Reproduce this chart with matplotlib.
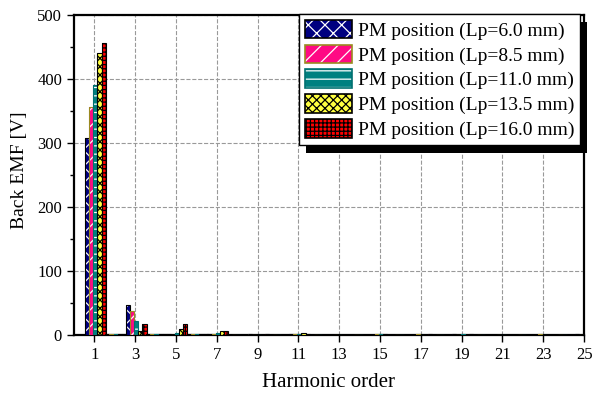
import numpy as np
import matplotlib
matplotlib.use('Agg')
import matplotlib.pyplot as plt
from matplotlib.patches import Patch, Rectangle
from matplotlib.ticker import MultipleLocator

plt.rcParams['font.family'] = ['Liberation Serif', 'DejaVu Serif']
plt.rcParams['hatch.linewidth'] = 0.9

harmonics = np.arange(1, 26)
labels = ['PM position (Lp=6.0 mm)', 'PM position (Lp=8.5 mm)', 'PM position (Lp=11.0 mm)',
          'PM position (Lp=13.5 mm)', 'PM position (Lp=16.0 mm)']

emf_lp60 = [308, 2, 47, 1, 2, 1, 1, 0.5, 1.5, 0.5, 1, 0.5, 0.8, 0.5, 0.8, 0.5, 0.8, 0.5, 1, 0.5, 0.5, 0.5, 0.5, 0.5, 1.5]
emf_lp85 = [357, 1.5, 38, 1, 0.5, 1, 2, 0.5, 0.5, 0.5, 1, 0.5, 0.5, 0.5, 1, 0.5, 1, 0.5, 0.5, 0.5, 0.5, 0.5, 1, 0.5, 0.5]
emf_lp110 = [391, 1, 22, 1, 4, 1, 4, 0.5, 0.5, 0.5, 1.5, 0.5, 0.5, 0.5, 1, 0.5, 0.5, 0.5, 1, 0.5, 0.5, 0.5, 0.5, 0.5, 0.5]
emf_lp135 = [440, 1, 6, 1, 10, 1, 7, 0.5, 0.5, 0.5, 2.5, 0.5, 0.5, 0.5, 1, 0.5, 0.5, 0.5, 0.5, 0.5, 0.5, 0.5, 0.5, 0.5, 0.5]
emf_lp160 = [457, 2, 17, 1, 18, 1, 7, 0.5, 1, 0.5, 2, 0.5, 0.5, 0.5, 0.5, 0.5, 1.5, 0.5, 1.5, 0.5, 0.5, 0.5, 0.5, 0.5, 0.5]
series = [emf_lp60, emf_lp85, emf_lp110, emf_lp135, emf_lp160]

# face, hatch, hatch colour, outline
styles = [
    ('#000080', 'xx', 'white', 'black'),
    ('#ff0a84', '//', 'white', '#9a8a20'),
    ('#008080', '--', 'white', '#007070'),
    ('#ffff40', 'xxxx', 'black', 'black'),
    ('#ff0000', '++++', 'black', 'black'),
]

fig = plt.figure(figsize=(5.96, 3.97), dpi=100)
ax = fig.add_axes([0.124, 0.156, 0.856, 0.806])

w = 0.204
handles = []
for i, (vals, (fc, hatch, hc, ec)) in enumerate(zip(series, styles)):
    x = harmonics + 0.05 + (i - 2) * w
    ax.bar(x, vals, width=w, color=fc, hatch=hatch, edgecolor=hc, linewidth=0, zorder=3)
    ax.bar(x, vals, width=w, fill=False, edgecolor=ec, linewidth=0.8, zorder=4)
    handles.append((Patch(facecolor=fc, hatch=hatch, edgecolor=hc, linewidth=0),
                    Patch(fill=False, edgecolor=ec, linewidth=1.2)))

ax.set_xlim(0, 25)
ax.set_ylim(0, 500)
ax.set_xticks(np.arange(1, 26, 2))
ax.yaxis.set_major_locator(MultipleLocator(100))
ax.yaxis.set_minor_locator(MultipleLocator(50))
ax.tick_params(axis='both', which='major', direction='out', length=5, width=1, labelsize=12)
ax.tick_params(axis='y', which='minor', direction='out', length=3, width=1)
ax.grid(True, which='major', linestyle='--', color='#999999', linewidth=0.8, zorder=0)
ax.set_axisbelow(True)
for s in ax.spines.values():
    s.set_linewidth(1.6)

ax.set_xlabel('Harmonic order', fontsize=15, labelpad=7)
ax.set_ylabel('Back EMF [V]', fontsize=14)
ax.yaxis.set_label_coords(-0.09, 0.516)

leg = ax.legend(handles, labels, loc='upper right', bbox_to_anchor=(0.992, 1.004),
                fontsize=14, frameon=True, fancybox=False, framealpha=1,
                edgecolor='black', handlelength=2.4, handleheight=1.1,
                labelspacing=0.25, handletextpad=0.3, borderpad=0.3, borderaxespad=0)
leg.get_frame().set_linewidth(1.0)
leg.set_zorder(10)

# black drop shadow behind the legend box
fig.canvas.draw()
bb = leg.get_window_extent().transformed(fig.transFigure.inverted())
off_x, off_y = 7 / 596, 8 / 397
shadow = Rectangle((bb.x0 + off_x, bb.y0 - off_y), bb.width, bb.height,
                   transform=fig.transFigure, facecolor='black', edgecolor='none', zorder=9)
ax.add_artist(shadow)
shadow.set_clip_on(False)

fig.savefig('out.png', dpi=100)
